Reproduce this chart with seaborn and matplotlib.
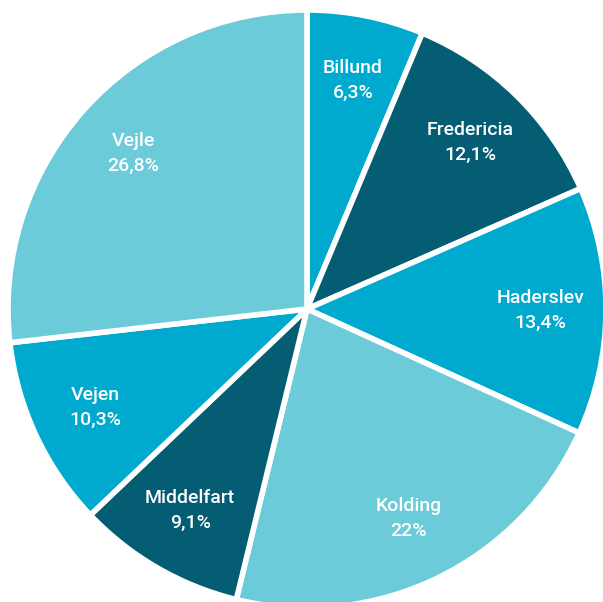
import matplotlib
matplotlib.use("Agg")
import matplotlib.pyplot as plt
import seaborn as sns

sns.set_theme(style="white")
plt.rcParams['font.family'] = ['Roboto', 'DejaVu Sans']

cities = ["Billund", "Fredericia", "Haderslev", "Kolding", "Middelfart", "Vejen", "Vejle"]
shares = [6.3, 12.1, 13.4, 22.0, 9.1, 10.3, 26.8]
share_labels = ["6,3%", "12,1%", "13,4%", "22%", "9,1%", "10,3%", "26,8%"]
colors = ["#00A9CE", "#055D73", "#00A9CE", "#6BCBD8", "#055D73", "#00A9CE", "#6BCBD8"]

fig = plt.figure(figsize=(6.03, 6.02), dpi=100)
cx, cy, r = 307, 309, 299
W, H = 603, 602
ax = fig.add_axes([(cx - r) / W, (H - cy - r) / H, 2 * r / W, 2 * r / H])

labels = [f"{c}\n{s}" for c, s in zip(cities, share_labels)]
wedges, texts = ax.pie(shares, colors=colors, startangle=90, counterclock=False,
                       labels=labels, labeldistance=0.78,
                       wedgeprops=dict(edgecolor="white", linewidth=4),
                       textprops=dict(color="white", fontsize=14, ha="center", va="center",
                                      linespacing=1.5, fontweight="medium"))
for t in texts:
    t.set_horizontalalignment("center")
ax.set_xlim(-1, 1)
ax.set_ylim(-1, 1)
ax.set_aspect("equal")
ax.axis("off")
fig.savefig("out.png", dpi=100)
